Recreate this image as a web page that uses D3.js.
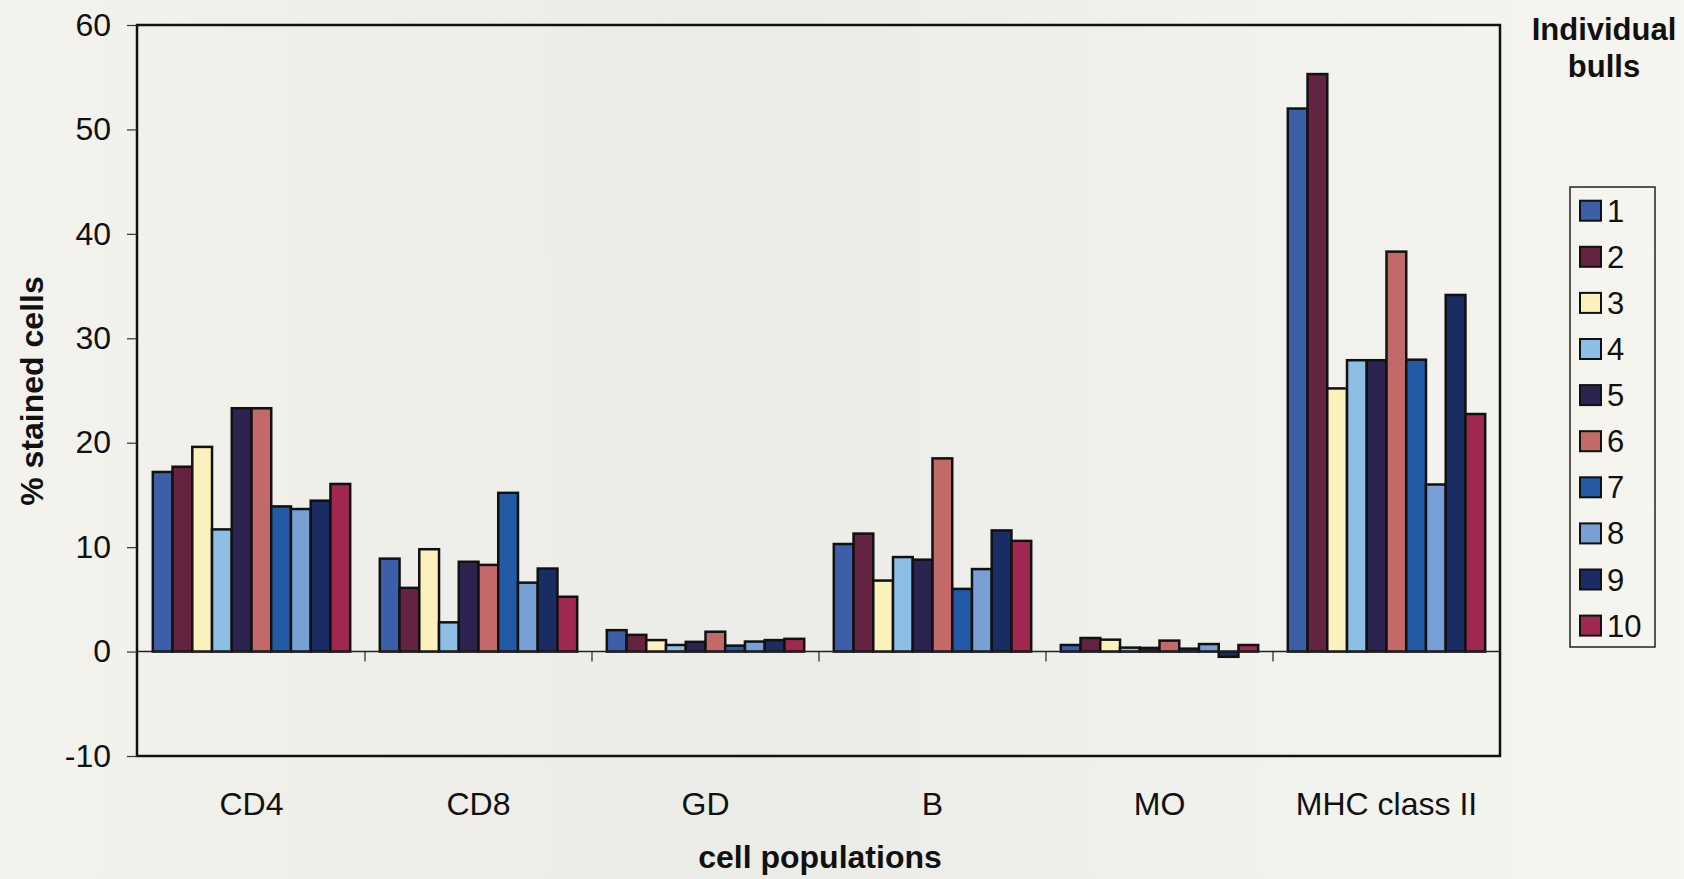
<!DOCTYPE html>
<html>
<head>
<meta charset="utf-8">
<script src="https://cdn.jsdelivr.net/npm/d3@7"></script>
<style>
  html, body { margin: 0; padding: 0; background: #f4f3ee; }
  svg { display: block; }
  text { font-family: Arial, "Liberation Sans", sans-serif; fill: #111; }
</style>
</head>
<body>
<svg id="chart" width="1684" height="879"></svg>
<script>
// ---- data ----
const categories = ["CD4", "CD8", "GD", "B", "MO", "MHC class II"];
const bulls = ["1", "2", "3", "4", "5", "6", "7", "8", "9", "10"];
const bull1  = [17.2,  8.9, 2.05, 10.3, 0.63, 52.0];
const bull2  = [17.7,  6.1, 1.6,  11.3, 1.3,  55.3];
const bull3  = [19.6,  9.8, 1.1,   6.8, 1.14, 25.2];
const bull4  = [11.7,  2.8, 0.63,  9.05, 0.38, 27.9];
const bull5  = [23.3,  8.6, 0.93,  8.8, 0.35, 27.9];
const bull6  = [23.3,  8.3, 1.9,  18.5, 1.05, 38.3];
const bull7  = [13.9, 15.2, 0.57,  6.0, 0.28, 27.95];
const bull8  = [13.65, 6.6, 0.96,  7.9, 0.72, 16.0];
const bull9  = [14.45, 7.95, 1.1, 11.6, -0.5, 34.15];
const bull10 = [16.05, 5.25, 1.22, 10.6, 0.63, 22.75];
const seriesValues = [bull1, bull2, bull3, bull4, bull5, bull6, bull7, bull8, bull9, bull10];
const yTicks = [-10, 0, 10, 20, 30, 40, 50, 60];
const colors = ["#3c5fa8", "#642340", "#faf1bd", "#8cbee6", "#2d2350",
                "#c36969", "#235aa5", "#78a0d7", "#192d64", "#a02850"];

// ---- layout ----
const svg = d3.select("#chart");
const plot = { left: 137, right: 1500, top: 25, bottom: 756 };

// background (scanned page tint)
const defs = svg.append("defs");
const grad = defs.append("linearGradient").attr("id", "bg").attr("x1", "0").attr("x2", "1").attr("y1", "0").attr("y2", "0");
grad.append("stop").attr("offset", "0").attr("stop-color", "#f3f2ec");
grad.append("stop").attr("offset", "0.45").attr("stop-color", "#ebebe8");
grad.append("stop").attr("offset", "0.75").attr("stop-color", "#f1f1ed");
grad.append("stop").attr("offset", "1").attr("stop-color", "#f6f5ef");
svg.append("rect").attr("width", 1684).attr("height", 879).attr("fill", "url(#bg)");

const y = d3.scaleLinear().domain([-10, 60]).range([plot.bottom, plot.top]);
const x0 = d3.scaleBand().domain(categories).range([plot.left + 1, plot.right])
  .paddingInner(1.5 / 11.5).paddingOuter(0.75 / 11.5);
const x1 = d3.scaleBand().domain(bulls).range([0, x0.bandwidth()]).padding(0);

// bars
const groups = svg.append("g").selectAll("g")
  .data(categories).join("g")
  .attr("transform", d => `translate(${x0(d)},0)`);

groups.selectAll("rect")
  .data((c, ci) => bulls.map((b, bi) => ({ bull: b, bi, v: seriesValues[bi][ci] })))
  .join("rect")
  .attr("x", d => x1(d.bull))
  .attr("width", x1.bandwidth())
  .attr("y", d => y(Math.max(0, d.v)))
  .attr("height", d => Math.abs(y(d.v) - y(0)))
  .attr("fill", d => colors[d.bi])
  .attr("stroke", "#111")
  .attr("stroke-width", 2.5);

// zero line with category ticks
svg.append("line")
  .attr("x1", plot.left).attr("x2", plot.right)
  .attr("y1", y(0)).attr("y2", y(0))
  .attr("stroke", "#222").attr("stroke-width", 1.5);
const boundaries = categories.slice(1).map(c => x0(c) - x0.step() * x0.paddingInner() / 2);
svg.append("g").selectAll("line").data(boundaries).join("line")
  .attr("x1", d => d).attr("x2", d => d)
  .attr("y1", y(0)).attr("y2", y(0) + 10)
  .attr("stroke", "#222").attr("stroke-width", 1.2);

// plot frame
svg.append("rect")
  .attr("x", plot.left).attr("y", plot.top)
  .attr("width", plot.right - plot.left).attr("height", plot.bottom - plot.top)
  .attr("fill", "none").attr("stroke", "#111").attr("stroke-width", 2.5);

// y axis
const yAxis = d3.axisLeft(y).tickValues(yTicks).tickSize(10).tickPadding(16)
  .tickFormat(d => String(d));
const ya = svg.append("g").attr("transform", `translate(${plot.left},0)`).call(yAxis);
ya.select(".domain").remove();
ya.selectAll(".tick line").attr("stroke", "#333").attr("stroke-width", 1.2);
ya.selectAll(".tick text").attr("font-size", 32).attr("fill", "#111")
  .style("font-family", "Arial, 'Liberation Sans', sans-serif");

// category labels
svg.append("g").selectAll("text").data(categories).join("text")
  .attr("x", d => x0(d) + x0.bandwidth() / 2)
  .attr("y", 815)
  .attr("text-anchor", "middle")
  .attr("font-size", 32)
  .text(d => d);

// axis titles
svg.append("text")
  .attr("x", 820).attr("y", 868)
  .attr("text-anchor", "middle")
  .attr("font-size", 32).attr("font-weight", "bold")
  .text("cell populations");

svg.append("text")
  .attr("transform", "translate(43,391) rotate(-90)")
  .attr("text-anchor", "middle")
  .attr("font-size", 32).attr("font-weight", "bold")
  .text("% stained cells");

// legend title
svg.append("text").attr("x", 1604).attr("y", 40).attr("text-anchor", "middle")
  .attr("font-size", 31).attr("font-weight", "bold").text("Individual");
svg.append("text").attr("x", 1604).attr("y", 77).attr("text-anchor", "middle")
  .attr("font-size", 31).attr("font-weight", "bold").text("bulls");

// legend
const legend = svg.append("g");
legend.append("rect")
  .attr("x", 1570).attr("y", 187).attr("width", 85).attr("height", 460)
  .attr("fill", "none").attr("stroke", "#222").attr("stroke-width", 1.5);
const item = legend.selectAll("g.item").data(bulls).join("g")
  .attr("class", "item")
  .attr("transform", (d, i) => `translate(0,${210.7 + i * 46.1})`);
item.append("rect")
  .attr("x", 1580).attr("y", -10).attr("width", 21).attr("height", 20)
  .attr("fill", (d, i) => colors[i]).attr("stroke", "#111").attr("stroke-width", 2);
item.append("text")
  .attr("x", 1607).attr("y", 11)
  .attr("font-size", 31)
  .text(d => d);
</script>
</body>
</html>
